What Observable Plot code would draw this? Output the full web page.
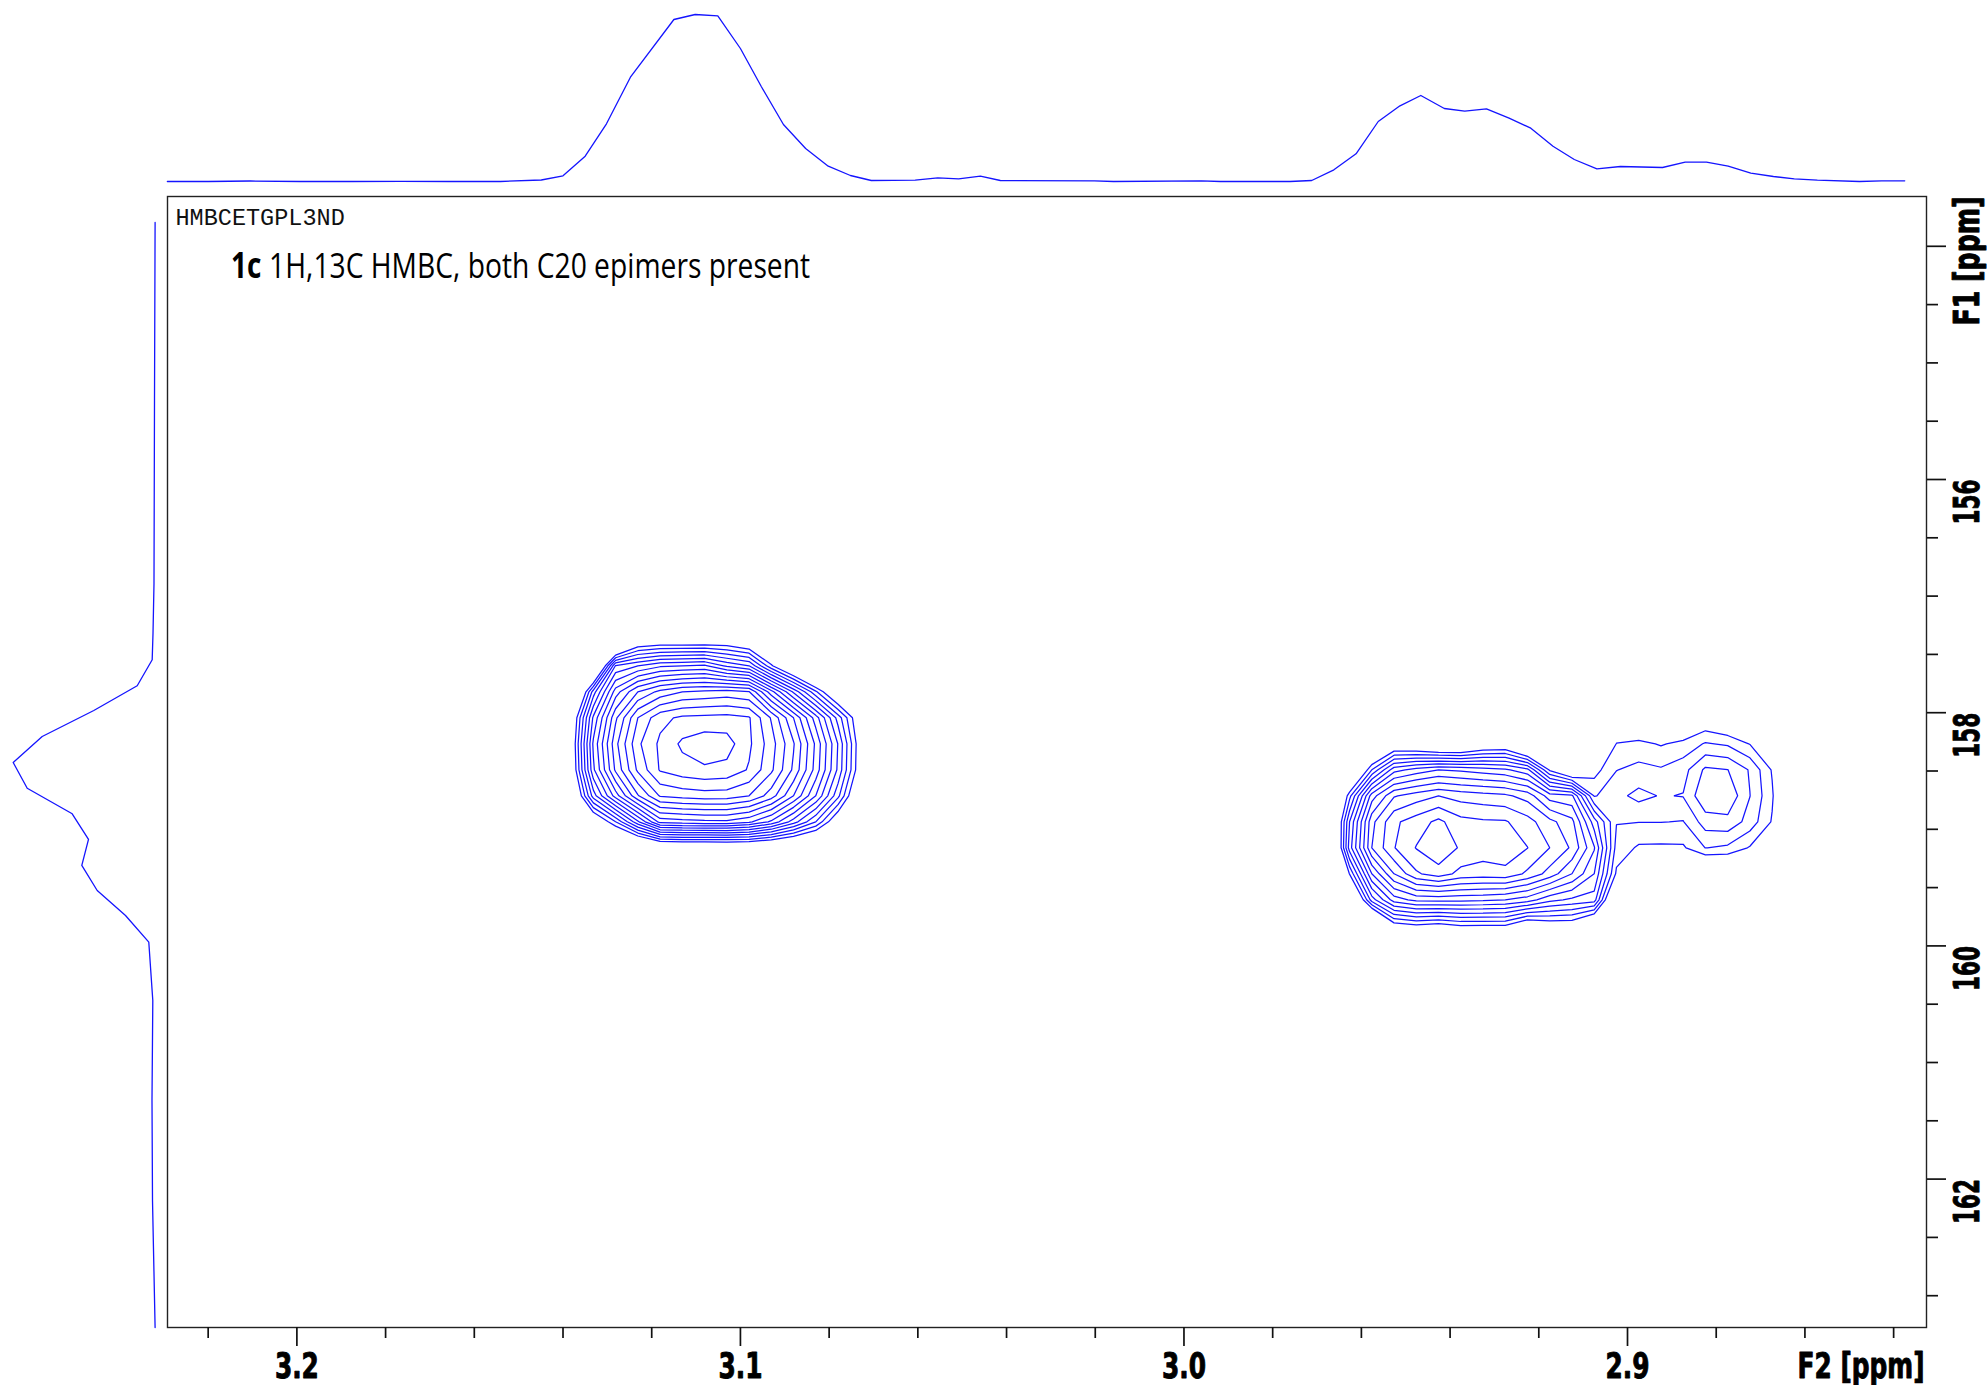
<!DOCTYPE html>
<html><head><meta charset="utf-8">
<script src="https://cdn.jsdelivr.net/npm/d3@7"></script>
<script src="https://cdn.jsdelivr.net/npm/@observablehq/plot@0.6"></script>
<style>
body{margin:0;background:#fff;}
#wrap{position:relative;width:1987px;height:1385px;overflow:hidden;background:#fff;}
#wrap svg{position:absolute;left:0;top:0;max-width:none;}
</style></head><body><div id="wrap"></div>
<script>
// ---------- axes (ppm) ----------
const f2Range = [3.22917, 2.83259];          // 1H, left -> right
const f1Range = [163.2727, 153.5729];        // 13C, bottom -> top
const f2MajorTicks = [3.2, 3.1, 3.0, 2.9];
const f2MinorTicks = [3.22, 3.18, 3.16, 3.14, 3.12, 3.08, 3.06, 3.04, 3.02, 2.98, 2.96, 2.94, 2.92, 2.88, 2.86, 2.84];
const f1MajorTicks = [154, 156, 158, 160, 162];
const f1TickLabels = [156, 158, 160, 162];
const f1MinorTicks = [154.5, 155, 155.5, 156.5, 157, 157.5, 158.5, 159, 159.5, 160.5, 161, 161.5, 162.5, 163];
const f2Title = "F2 [ppm]";
const f1Title = "F1 [ppm]";
const pulseProgram = "HMBCETGPL3ND";
const titleBold = "1c";
const titleText = "1H,13C HMBC, both C20 epimers present";

// ---------- F2 projection (top) ----------
const f2ProjPpm = [3.2292, 3.2200, 3.2105, 3.1992, 3.1879, 3.1767, 3.1654, 3.1541, 3.1449, 3.1400, 3.1350, 3.1302, 3.1248, 3.1150, 3.1102, 3.1051, 3.1000, 3.0953, 3.0903, 3.0853, 3.0802, 3.0752, 3.0705, 3.0606, 3.0555, 3.0508, 3.0459, 3.0414, 3.0202, 3.0159, 2.9961, 2.9918, 2.9761, 2.9712, 2.9662, 2.9612, 2.9562, 2.9513, 2.9466, 2.9413, 2.9367, 2.9318, 2.9267, 2.9218, 2.9168, 2.9120, 2.9069, 2.9016, 2.8921, 2.8870, 2.8822, 2.8773, 2.8722, 2.8671, 2.8624, 2.8572, 2.8477, 2.8427, 2.8375];
const f2ProjIntensity = [0, 0, 0.5, 0, 0, 0.2, 0, 0, 1.5, 5.7, 25.3, 57.7, 104.3, 162, 167, 165.7, 133, 95, 57, 33, 15.3, 6, 1, 1.3, 3.7, 2.7, 5.3, 1, 0.7, 0, 0.7, 0, 0, 1, 11.7, 27.7, 60, 75.7, 86, 73, 70.3, 72.7, 63.3, 53.3, 35.3, 22, 12.7, 15, 14, 19.3, 19.3, 15.3, 8.3, 5, 2.7, 1.3, 0, 0.7, 0.7];

// ---------- F1 projection (left) ----------
const f1ProjPpm = [153.796, 155.322, 156.892, 157.321, 157.546, 157.769, 157.981, 158.204, 158.427, 158.648, 158.867, 159.087, 159.310, 159.525, 159.739, 159.968, 160.468, 161.326, 162.184, 163.273];
const f1ProjIntensity = [0.4, 1.0, 1.5, 2.5, 3.3, 18.3, 61.7, 113.3, 142.3, 128.3, 83.3, 67, 73.7, 58.3, 30, 6.7, 2.7, 3.5, 3, 0.4];

// ---------- 2D data (contour-level units) ----------
const contourLevels = [1, 2, 3, 4, 5, 6, 7, 8, 9, 10, 11, 12, 13, 14, 15, 16, 17];
const f2Step = 0.0050144;   // ppm per point (F2)
const f1Step = 0.222985;    // ppm per point (F1)
const peak1FirstF2 = 3.13817;
const peak1FirstF1 = 157.1518;
const peak1Rows = [
 [-6,-6,-6,-6,-6,-6,-6,-6,-6,-6,-6,-6,-6,-6,-6],
 [-6,-6,-4.9,-0.9,-0.5,-0.5,-0.5,-0.4,-1.2,-3,-5,-6,-6,-6,-6],
 [-6,-3.8,5.1,6.0,6.8,7.0,7.2,5.8,5.0,1.2,-2,-5,-6,-6,-6],
 [-4,3.5,8.5,11.0,12.3,13.0,13.2,13.4,13.05,9.4,5.8,2.2,-1.4,-6,-6],
 [-0.8,6.2,10.8,14.0,15.7,16.2,16.3,16.35,16.1,13.9,11.0,7.5,3.6,-0.4,-6],
 [-0.4,7.2,11.7,14.8,16.2,17.2,17.6,17.45,16.2,14.45,12.1,8.8,4.95,0.1,-6],
 [-0.6,6.8,11.2,14.2,16.1,16.6,16.85,16.7,15.9,14.2,11.8,8.6,4.8,0.0,-6],
 [-2,4.5,8.5,11.9,14.1,14.4,14.55,14.5,14.0,12.5,10.0,7.0,3.3,-1.5,-6],
 [-5,-1,2.0,5.8,9.4,9.6,9.75,9.8,9.2,7.8,5.5,3.0,-0.5,-4,-6],
 [-6,-5,-4,-3,-1.7,-1.5,-1.6,-1.5,-1.5,-2,-2.5,-3,-4,-6,-6],
 [-6,-6,-6,-6,-6,-6,-6,-6,-6,-6,-6,-6,-6,-6,-6]
];
const peak2FirstF2 = 2.972695;
const peak2FirstF1 = 158.0437;
const peak2Rows = [
 [-5,-5,-5,-5,-5,-5,-5,-5,-5,-5,-5,-5,-5,-5,-1,-1,-2,-1,-0.1,-0.8,-1.5,-2,-3,-5],
 [-5,-5,-5,-3,-0.8,-1.1,-1.9,-2,-0.8,-0.5,-3,-4,-5,-3,1.05,1.3,0.9,1.3,2.1,1.85,0.95,-1,-3,-5],
 [-5,-5,-3,2.0,5.6,6.4,7.0,6.8,6.5,6.2,5.3,0.8,-1.5,0.56,1.97,2.3,2.12,2.6,4.2,4.02,2.9,0.9,-2,-5],
 [-5,-4.5,1.65,7.5,9.9,10.5,11.0,10.6,10.4,10.2,9.6,7.5,7.2,1.9,2.71,3.3,2.93,3.05,4.85,4.8,3.02,1.15,-2,-5],
 [-5,-4.1,4.0,9.7,11.8,12.5,13.25,12.33,12.15,12.1,11.4,10.3,9.3,5.5,2.05,2.03,2.03,1.95,3.49,3.7,2.6,0.9,-2,-5],
 [-5,-4.7,4.5,10.0,11.95,13.05,13.9,12.84,12.5,12.7,12.02,11.0,9.84,7.1,1.6,0.85,0.82,0.85,2.02,1.8,0.9,-1,-2,-5],
 [-5,-4.5,1.05,7.0,10.0,11.85,12.5,11.7,11.54,11.67,10.8,9.6,8.0,6.0,0.8,-1,-1.5,-1.5,-1.7,-1.5,-1.5,-2,-3,-5],
 [-5,-5,-3,3.5,6.5,7.3,7.35,7.3,7.2,7.0,6.5,5.3,4.8,4.5,-2.5,-3,-3,-3,-3,-3,-3,-3,-3,-5],
 [-5,-5,-5,-4.3,0.3,0.75,0.45,0.95,0.9,0.9,-0.64,0.0,0.0,-2,-5,-5,-5,-5,-5,-5,-5,-5,-5,-5],
 [-5,-5,-5,-5,-5,-5,-5,-5,-5,-5,-5,-5,-5,-5,-5,-5,-5,-5,-5,-5,-5,-5,-5,-5]
];

// ---------- layout ----------
const W = 1987, H = 1385;
const ML = 167, MR = 61, MT = 196, MB = 58;
const BLUE = "#1414ff";
const tickFont = "'Liberation Sans Narrow', 'Arial Narrow', 'DejaVu Sans Condensed', sans-serif";
const titleFont = "'Liberation Sans Narrow', 'Arial Narrow', 'Open Sans', sans-serif";
const labelStyle = {fontSize: 35, fontWeight: "bold", fontFamily: tickFont, fill: "#000", stroke: "#000", strokeWidth: 0.9};

function gridContour(rows, firstF2, firstF1) {
  const w = rows[0].length, h = rows.length;
  const x1 = firstF2 + f2Step / 2, x2 = x1 - w * f2Step;
  const y1 = firstF1 - f1Step / 2, y2 = y1 + h * f1Step;
  return Plot.contour(rows.flat(), {
    width: w, height: h, x1, x2, y1, y2,
    value: (d) => d,
    thresholds: contourLevels,
    stroke: BLUE, strokeWidth: 1.25, fill: "none"
  });
}

const wrap = document.getElementById("wrap");

const main = Plot.plot({
  width: W, height: H,
  marginLeft: ML, marginRight: MR, marginTop: MT, marginBottom: MB,
  x: {domain: f2Range},
  y: {domain: f1Range},
  style: {background: "transparent", overflow: "visible"},
  marks: [
    Plot.frame({stroke: "#222", strokeWidth: 1.4}),
    gridContour(peak1Rows, peak1FirstF2, peak1FirstF1),
    gridContour(peak2Rows, peak2FirstF2, peak2FirstF1),
    Plot.axisX(f2MajorTicks, {anchor: "bottom", tickSize: 19, tickFormat: () => "", label: null, stroke: "#111", strokeWidth: 1.7}),
    Plot.axisX(f2MinorTicks, {anchor: "bottom", tickSize: 11, tickFormat: () => "", label: null, stroke: "#111", strokeWidth: 1.7}),
    Plot.axisY(f1MajorTicks, {anchor: "right", tickSize: 19, tickFormat: () => "", label: null, stroke: "#111", strokeWidth: 1.7}),
    Plot.axisY(f1MinorTicks, {anchor: "right", tickSize: 11, tickFormat: () => "", label: null, stroke: "#111", strokeWidth: 1.7}),
    Plot.text(f2MajorTicks, {x: (d) => d, text: (d) => d.toFixed(1), frameAnchor: "bottom", dy: 39, lineAnchor: "middle", ...labelStyle}),
    Plot.text([f2Title], {text: (d) => d, frameAnchor: "bottom-right", dx: -2, dy: 39, textAnchor: "end", lineAnchor: "middle", ...labelStyle}),
    Plot.text(f1TickLabels, {y: (d) => d, text: (d) => String(d), frameAnchor: "right", dx: 41, rotate: -90, lineAnchor: "middle", ...labelStyle}),
    Plot.text([f1Title], {text: (d) => d, frameAnchor: "top-right", dx: 41, dy: 0, rotate: -90, textAnchor: "end", lineAnchor: "middle", ...labelStyle}),
    Plot.text([pulseProgram], {text: (d) => d, frameAnchor: "top-left", dx: 8, dy: 28, textAnchor: "start", lineAnchor: "bottom",
      fontSize: 23.5, fontFamily: "'Liberation Mono', 'DejaVu Sans Mono', monospace", fill: "#111"}),
    Plot.text([titleBold], {text: (d) => d, frameAnchor: "top-left", dx: 63.6, dy: 81.5, textAnchor: "start", lineAnchor: "bottom",
      fontSize: 35, fontWeight: "bold", fontFamily: titleFont, fill: "#000"}),
    Plot.text([titleText], {text: (d) => d, frameAnchor: "top-left", dx: 101.6, dy: 81.5, textAnchor: "start", lineAnchor: "bottom",
      fontSize: 35, fontFamily: titleFont, fill: "#000"})
  ]
});
wrap.appendChild(main);

// fit text pieces to the reference widths
const fitWidths = new Map([
  [titleText, 541], [titleBold, 30.4], [f2Title, 127], [f1Title, 129],
  ["3.2", 44], ["3.1", 44], ["3.0", 44], ["2.9", 44],
  ["156", 45], ["158", 45], ["160", 45], ["162", 45]
]);
main.querySelectorAll("text").forEach((t) => {
  const w = fitWidths.get(t.textContent);
  if (w) { t.setAttribute("textLength", w); t.setAttribute("lengthAdjust", "spacingAndGlyphs"); }
});

const topProj = Plot.plot({
  width: W, height: MT,
  marginLeft: ML, marginRight: MR, marginTop: 14, marginBottom: 15,
  x: {domain: f2Range, axis: null},
  y: {domain: [0, 167], axis: null},
  style: {background: "transparent", overflow: "visible"},
  marks: [
    Plot.line({length: f2ProjPpm.length}, {x: f2ProjPpm, y: f2ProjIntensity, stroke: BLUE, strokeWidth: 1.3})
  ]
});
wrap.appendChild(topProj);

const leftProj = Plot.plot({
  width: ML, height: H,
  marginLeft: 12.7, marginRight: 12, marginTop: MT, marginBottom: MB,
  x: {domain: [142.3, 0], axis: null},
  y: {domain: f1Range, axis: null},
  style: {background: "transparent", overflow: "visible"},
  marks: [
    Plot.line({length: f1ProjPpm.length}, {x: f1ProjIntensity, y: f1ProjPpm, stroke: BLUE, strokeWidth: 1.3})
  ]
});
wrap.appendChild(leftProj);
</script></body></html>
